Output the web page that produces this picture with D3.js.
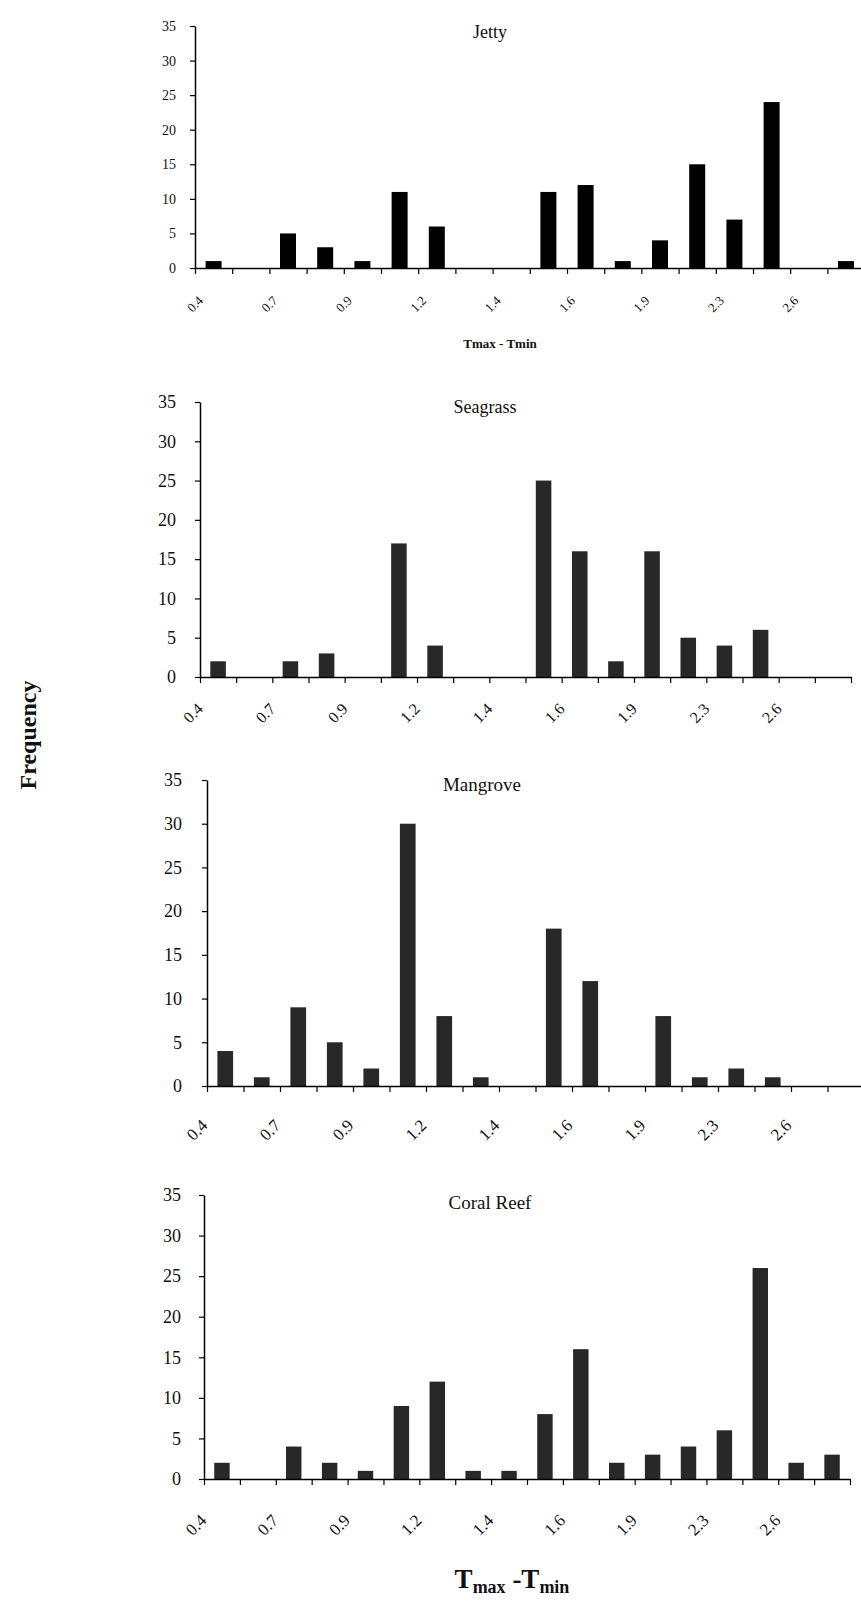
<!DOCTYPE html>
<html>
<head>
<meta charset="utf-8">
<script src="https://cdn.jsdelivr.net/npm/d3@7"></script>
<style>
  html, body { margin: 0; padding: 0; background: #fff; }
  svg { display: block; }
  text { font-family: "Liberation Serif", "Times New Roman", serif; fill: #111; }
</style>
</head>
<body>
<svg id="chart" width="861" height="1604"></svg>
<script>
// ---- data ----
const panelTitles = ["Jetty", "Seagrass", "Mangrove", "Coral Reef"];
const bins = ["b1","b2","b3","b4","b5","b6","b7","b8","b9","b10","b11","b12","b13","b14","b15","b16","b17","b18"];
const tickLabels = ["0.4", "0.7", "0.9", "1.2", "1.4", "1.6", "1.9", "2.3", "2.6"];
const yTicks = [0, 5, 10, 15, 20, 25, 30, 35];
const jettyValues    = [1, 0, 5, 3, 1, 11, 6, 0, 0, 11, 12, 1, 4, 15, 7, 24, 0, 1];
const seagrassValues = [2, 0, 2, 3, 0, 17, 4, 0, 0, 25, 16, 2, 16, 5, 4, 6, 0, 0];
const mangroveValues = [4, 1, 9, 5, 2, 30, 8, 1, 0, 18, 12, 0, 8, 1, 2, 1, 0, 0];
const coralValues    = [2, 0, 4, 2, 1, 9, 12, 1, 1, 8, 16, 2, 3, 4, 6, 26, 2, 3];
const seriesValues = [jettyValues, seagrassValues, mangroveValues, coralValues];

// ---- layout ----
const layouts = [
  {x0:195, x1:864.6, y0:268, yTop:26,  bar:"#000",    yFont:14, yPad:14, xFont:13, labelDy:36, labelDx:0,  titleX:490, titleY:32,   titleSize:18},
  {x0:200, x1:851,   y0:677, yTop:402, bar:"#282828", yFont:18, yPad:19, xFont:16, labelDy:36, labelDx:-7, titleX:485, titleY:407,  titleSize:18},
  {x0:207, x1:864,   y0:1086,yTop:780, bar:"#282828", yFont:18, yPad:20, xFont:17, labelDy:44, labelDx:-10,titleX:482, titleY:784,  titleSize:19},
  {x0:204, x1:850,   y0:1479,yTop:1195,bar:"#282828", yFont:18, yPad:18, xFont:17, labelDy:46, labelDx:-8, titleX:490, titleY:1202, titleSize:19}
];

const svg = d3.select("#chart");

seriesValues.forEach((vals, i) => {
  const L = layouts[i];
  const g = svg.append("g");
  const x = d3.scaleBand().domain(bins).range([L.x0, L.x1]).paddingInner(0.57).paddingOuter(0.285);
  const xb = d3.scaleLinear().domain([0, bins.length]).range([L.x0, L.x1]);
  const y = d3.scaleLinear().domain([0, 35]).range([L.y0, L.yTop]);

  // bars
  g.selectAll("rect.bar").data(vals).enter().append("rect")
    .attr("class", "bar")
    .attr("x", (d, k) => x(bins[k]))
    .attr("width", x.bandwidth())
    .attr("y", d => y(d))
    .attr("height", d => y(0) - y(d))
    .attr("fill", L.bar);

  // y axis
  const ya = g.append("g").attr("transform", `translate(${L.x0},0)`)
    .call(d3.axisLeft(y).tickValues(yTicks).tickSize(5).tickSizeOuter(0).tickPadding(L.yPad));
  ya.select(".domain").attr("stroke", "#000").attr("stroke-width", 1.5);
  ya.selectAll(".tick line").attr("stroke", "#000").attr("stroke-width", 1.2);
  ya.selectAll(".tick text").style("font-size", L.yFont + "px")
    .style("font-family", "'Liberation Serif', serif").attr("fill", "#111");

  // x axis (ticks at bin boundaries)
  const xa = g.append("g").attr("transform", `translate(0,${L.y0})`)
    .call(d3.axisBottom(xb).tickValues(d3.range(bins.length + 1)).tickSize(6).tickSizeOuter(0)
      .tickFormat(() => ""));
  xa.select(".domain").attr("stroke", "#000").attr("stroke-width", 1.5);
  xa.selectAll(".tick line").attr("stroke", "#000").attr("stroke-width", 1.2);

  // rotated category labels
  g.selectAll("text.xl").data(tickLabels).enter().append("text")
    .attr("class", "xl")
    .attr("transform", (d, k) => `translate(${xb(k * 2) + L.labelDx},${L.y0 + L.labelDy}) rotate(-45)`)
    .attr("text-anchor", "middle")
    .attr("dominant-baseline", "central")
    .style("font-size", L.xFont + "px")
    .text(d => d);

  // title
  g.append("text").attr("x", L.titleX).attr("y", L.titleY)
    .attr("text-anchor", "middle").attr("dominant-baseline", "central")
    .style("font-size", L.titleSize + "px").text(panelTitles[i]);
});

// small x title under Jetty
svg.append("text").attr("x", 500).attr("y", 343)
  .attr("text-anchor", "middle").attr("dominant-baseline", "central")
  .style("font-size", "13px").style("font-weight", "bold").text("Tmax - Tmin");

// Frequency
svg.append("text").attr("transform", "translate(28,735) rotate(-90)")
  .attr("text-anchor", "middle").attr("dominant-baseline", "central")
  .style("font-size", "24px").style("font-weight", "bold").text("Frequency");

// bottom title with subscripts
const bt = svg.append("text").attr("x", 512).attr("y", 1588)
  .attr("text-anchor", "middle").style("font-size", "27px").style("font-weight", "bold");
bt.append("tspan").text("T");
bt.append("tspan").attr("dy", 5).style("font-size", "18px").text("max");
bt.append("tspan").attr("dy", -5).text(" -T");
bt.append("tspan").attr("dy", 5).style("font-size", "18px").text("min");
</script>
</body>
</html>
